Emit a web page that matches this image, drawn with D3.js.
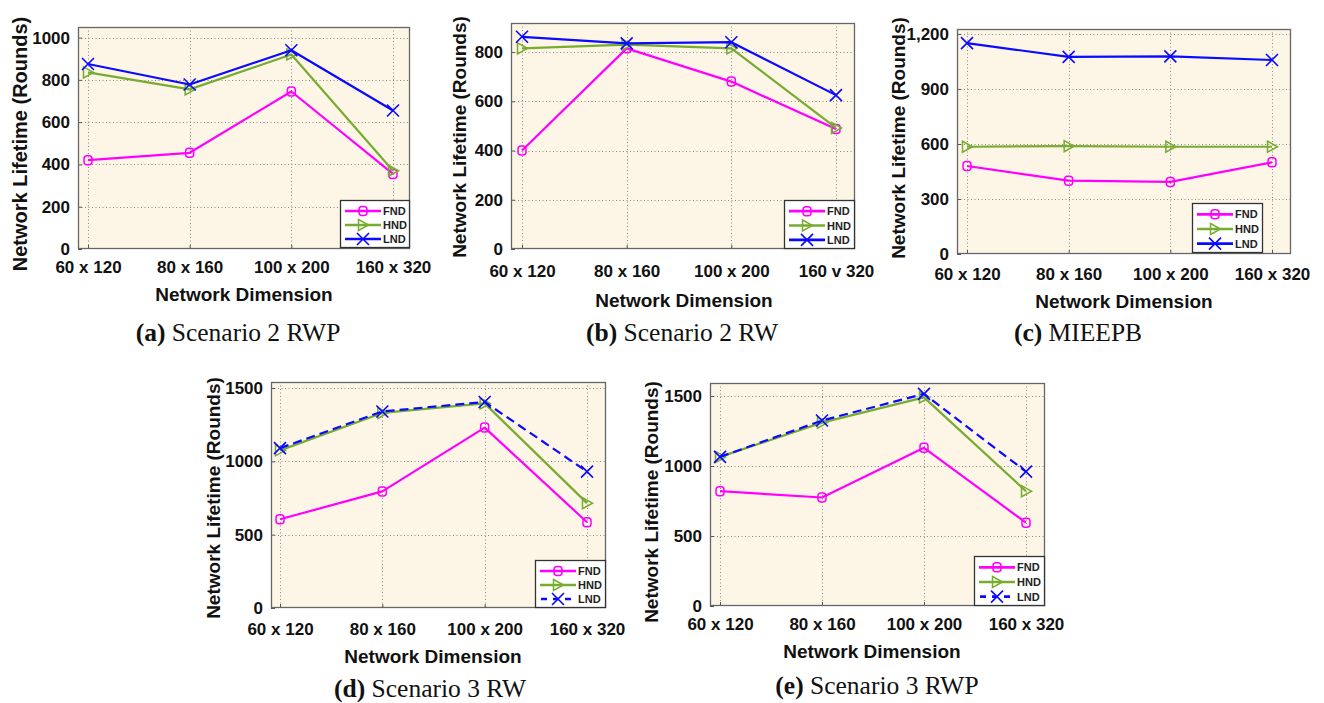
<!DOCTYPE html>
<html><head><meta charset="utf-8">
<script src="https://cdn.jsdelivr.net/npm/d3@7"></script>
<style>body{margin:0;background:#fff}</style></head><body>
<svg id="c" width="1324" height="703" xmlns="http://www.w3.org/2000/svg"></svg>
<script>
// ---------- data ----------
const categories  = ["60 x 120", "80 x 160", "100 x 200", "160 x 320"];
const categoriesB = ["60 x 120", "80 x 160", "100 x 200", "160 v 320"];
const seriesNames = ["FND", "HND", "LND"];

const fndA = [420, 455, 745, 355];
const hndA = [835, 755, 920, 370];
const lndA = [875, 778, 940, 655];

const fndB = [400, 815, 680, 487];
const hndB = [815, 830, 815, 492];
const lndB = [862, 835, 840, 625];

const fndC = [480, 400, 393, 500];
const hndC = [585, 588, 585, 585];
const lndC = [1150, 1075, 1078, 1058];

const fndD = [605, 795, 1230, 585];
const hndD = [1075, 1330, 1395, 715];
const lndD = [1090, 1340, 1405, 930];

const fndE = [820, 775, 1130, 595];
const hndE = [1065, 1310, 1490, 820];
const lndE = [1065, 1325, 1515, 960];

const ticksA = [0, 200, 400, 600, 800, 1000];
const ticksB = [0, 200, 400, 600, 800];
const ticksC = [0, 300, 600, 900, 1200];
const ticksD = [0, 500, 1000, 1500];
const ticksE = [0, 500, 1000, 1500];

const captionLetters = ["(a)", "(b)", "(c)", "(d)", "(e)"];
const captionTexts = ["Scenario 2 RWP", "Scenario 2 RW", "MIEEPB", "Scenario 3 RW", "Scenario 3 RWP"];
const yTitle = "Network Lifetime (Rounds)";
const xTitle = "Network Dimension";

// ---------- styles / layout ----------
const colors = {FND: "#ff00ff", HND: "#77ac30", LND: "#0a0aff"};
const bg = "#fdf5e6";
const sans = "'Liberation Sans', Arial, sans-serif";
const serif = "'Liberation Serif', 'Times New Roman', serif";

const panels = [
  {cats: categories,  fnd: fndA, hnd: hndA, lnd: lndA, ticks: ticksA, fmt: d3.format("d"), yMax: 1050,
   L: 78, T: 27, R: 410, B: 249, x0: 88, x3: 393, lndDash: false,
   leg: {x: 340, y: 200, w: 70, h: 48}, yl: {x: 20, y: 144, fs: 20}, xl: {x: 244, y: 301}, tickOff: 24,
   cap: {x: 238, y: 341}},
  {cats: categoriesB, fnd: fndB, hnd: hndB, lnd: lndB, ticks: ticksB, fmt: d3.format("d"), yMax: 918,
   L: 511, T: 23, R: 855, B: 249, x0: 522, x3: 836, lndDash: false,
   leg: {x: 784, y: 200, w: 71, h: 49}, yl: {x: 459, y: 137, fs: 19}, xl: {x: 684, y: 307}, tickOff: 28,
   cap: {x: 682, y: 341}},
  {cats: categories,  fnd: fndC, hnd: hndC, lnd: lndC, ticks: ticksC, fmt: d3.format(","), yMax: 1227,
   L: 957, T: 29, R: 1291, B: 254, x0: 967, x3: 1272, lndDash: false,
   leg: {x: 1192, y: 203, w: 71, h: 50}, yl: {x: 898, y: 138, fs: 19}, xl: {x: 1124, y: 308}, tickOff: 26,
   cap: {x: 1078, y: 341}},
  {cats: categories,  fnd: fndD, hnd: hndD, lnd: lndD, ticks: ticksD, fmt: d3.format("d"), yMax: 1541,
   L: 271, T: 382, R: 606, B: 608, x0: 280, x3: 587, lndDash: true,
   leg: {x: 535, y: 560, w: 71, h: 48}, yl: {x: 213, y: 498, fs: 19}, xl: {x: 433, y: 663}, tickOff: 27,
   cap: {x: 430, y: 697}},
  {cats: categories,  fnd: fndE, hnd: hndE, lnd: lndE, ticks: ticksE, fmt: d3.format("d"), yMax: 1593,
   L: 710, T: 383, R: 1045, B: 606, x0: 720, x3: 1026, lndDash: true,
   leg: {x: 974, y: 556, w: 71, h: 50}, yl: {x: 651, y: 502, fs: 19}, xl: {x: 872, y: 658}, tickOff: 24,
   cap: {x: 877, y: 694}}
];

const svg = d3.select("#c");

function drawMarker(g, type, x, y, color) {
  if (type === "FND") {
    g.append("rect").attr("x", x - 4).attr("y", y - 4.5).attr("width", 8).attr("height", 9)
      .attr("rx", 3).attr("fill", "none").attr("stroke", color).attr("stroke-width", 1.5);
  } else if (type === "HND") {
    g.append("path").attr("d", `M${x - 4.5},${y - 5.5}L${x + 5.5},${y}L${x - 4.5},${y + 5.5}Z`)
      .attr("fill", "none").attr("stroke", color).attr("stroke-width", 1.5);
  } else {
    const s = 6;
    g.append("path").attr("d", `M${x - s},${y - s}L${x + s},${y + s}M${x - s},${y + s}L${x + s},${y - s}`)
      .attr("fill", "none").attr("stroke", color).attr("stroke-width", 1.6);
  }
}

panels.forEach((p, pi) => {
  const g = svg.append("g");
  const x = d3.scalePoint().domain(p.cats).range([p.x0, p.x3]).padding(0);
  const y = d3.scaleLinear().domain([0, p.yMax]).range([p.B, p.T]);

  g.append("rect").attr("x", p.L).attr("y", p.T).attr("width", p.R - p.L).attr("height", p.B - p.T)
    .attr("fill", bg);

  const grid = g.append("g").attr("stroke", "#8a8a8a").attr("stroke-width", 1).attr("stroke-dasharray", "1,2.5");
  p.ticks.filter(t => t > 0).forEach(t => {
    grid.append("line").attr("x1", p.L).attr("x2", p.R).attr("y1", Math.round(y(t)) + 0.5).attr("y2", Math.round(y(t)) + 0.5);
  });
  p.cats.forEach(c => {
    grid.append("line").attr("x1", Math.round(x(c)) + 0.5).attr("x2", Math.round(x(c)) + 0.5).attr("y1", p.T).attr("y2", p.B);
  });

  const yAxis = d3.axisLeft(y).tickValues(p.ticks).tickFormat(p.fmt).tickSizeInner(-4).tickSizeOuter(0).tickPadding(8);
  const ya = g.append("g").attr("transform", `translate(${p.L},0)`).call(yAxis);
  ya.select(".domain").remove();
  ya.selectAll(".tick line").attr("stroke", "#555");
  ya.selectAll("text").attr("font-family", sans).attr("font-weight", "bold").attr("font-size", 17).attr("fill", "#111");

  const xAxis = d3.axisBottom(x).tickSizeInner(-4).tickSizeOuter(0).tickPadding(p.tickOff - 12);
  const xa = g.append("g").attr("transform", `translate(0,${p.B})`).call(xAxis);
  xa.select(".domain").remove();
  xa.selectAll(".tick line").attr("stroke", "#555");
  xa.selectAll("text").attr("font-family", sans).attr("font-weight", "bold").attr("font-size", 17).attr("fill", "#111");

  g.append("rect").attr("x", p.L + 0.5).attr("y", p.T + 0.5).attr("width", p.R - p.L - 1).attr("height", p.B - p.T - 1)
    .attr("fill", "none").attr("stroke", "#666").attr("stroke-width", 1.3);

  const series = [["FND", p.fnd], ["HND", p.hnd], ["LND", p.lnd]];
  const line = d3.line().x((d, i) => x(p.cats[i])).y(d => y(d));
  series.forEach(([name, vals]) => {
    const path = g.append("path").datum(vals).attr("d", line).attr("fill", "none")
      .attr("stroke", colors[name]).attr("stroke-width", 2.2).attr("stroke-linejoin", "round");
    if (name === "LND" && p.lndDash) path.attr("stroke-dasharray", "9,5");
    vals.forEach((v, i) => drawMarker(g, name, x(p.cats[i]), y(v), colors[name]));
  });

  const lg = g.append("g");
  lg.append("rect").attr("x", p.leg.x + 0.5).attr("y", p.leg.y + 0.5).attr("width", p.leg.w - 1).attr("height", p.leg.h - 1)
    .attr("fill", "#fff").attr("stroke", "#333").attr("stroke-width", 1.3);
  const rowH = (p.leg.h - 6) / 3;
  seriesNames.forEach((name, i) => {
    const cy = p.leg.y + 3 + rowH * (i + 0.5) + 1;
    const lx0 = p.leg.x + 5, lx1 = p.leg.x + 41;
    const ln = lg.append("line").attr("x1", lx0).attr("x2", lx1).attr("y1", cy).attr("y2", cy)
      .attr("stroke", colors[name]).attr("stroke-width", 2.6);
    if (name === "LND" && p.lndDash) ln.attr("stroke-dasharray", "6,6").attr("stroke-dashoffset", -1);
    drawMarker(lg, name, (lx0 + lx1) / 2, cy, colors[name]);
    lg.append("text").attr("x", lx1 + 2).attr("y", cy + 4).text(name)
      .attr("font-family", sans).attr("font-weight", "bold").attr("font-size", 11).attr("fill", "#222");
  });

  g.append("text").attr("transform", `translate(${p.yl.x},${p.yl.y}) rotate(-90)`)
    .attr("text-anchor", "middle").attr("dominant-baseline", "central")
    .attr("font-family", sans).attr("font-weight", "bold").attr("font-size", p.yl.fs).attr("fill", "#111")
    .text(yTitle);
  g.append("text").attr("x", p.xl.x).attr("y", p.xl.y).attr("text-anchor", "middle")
    .attr("font-family", sans).attr("font-weight", "bold").attr("font-size", 19).attr("fill", "#111")
    .text(xTitle);

  const cap = g.append("text").attr("x", p.cap.x).attr("y", p.cap.y).attr("text-anchor", "middle")
    .attr("font-family", serif).attr("font-size", 25.5).attr("fill", "#111");
  cap.append("tspan").attr("font-weight", "bold").text(captionLetters[pi]);
  cap.append("tspan").text(" " + captionTexts[pi]);
});
</script>
</body></html>
